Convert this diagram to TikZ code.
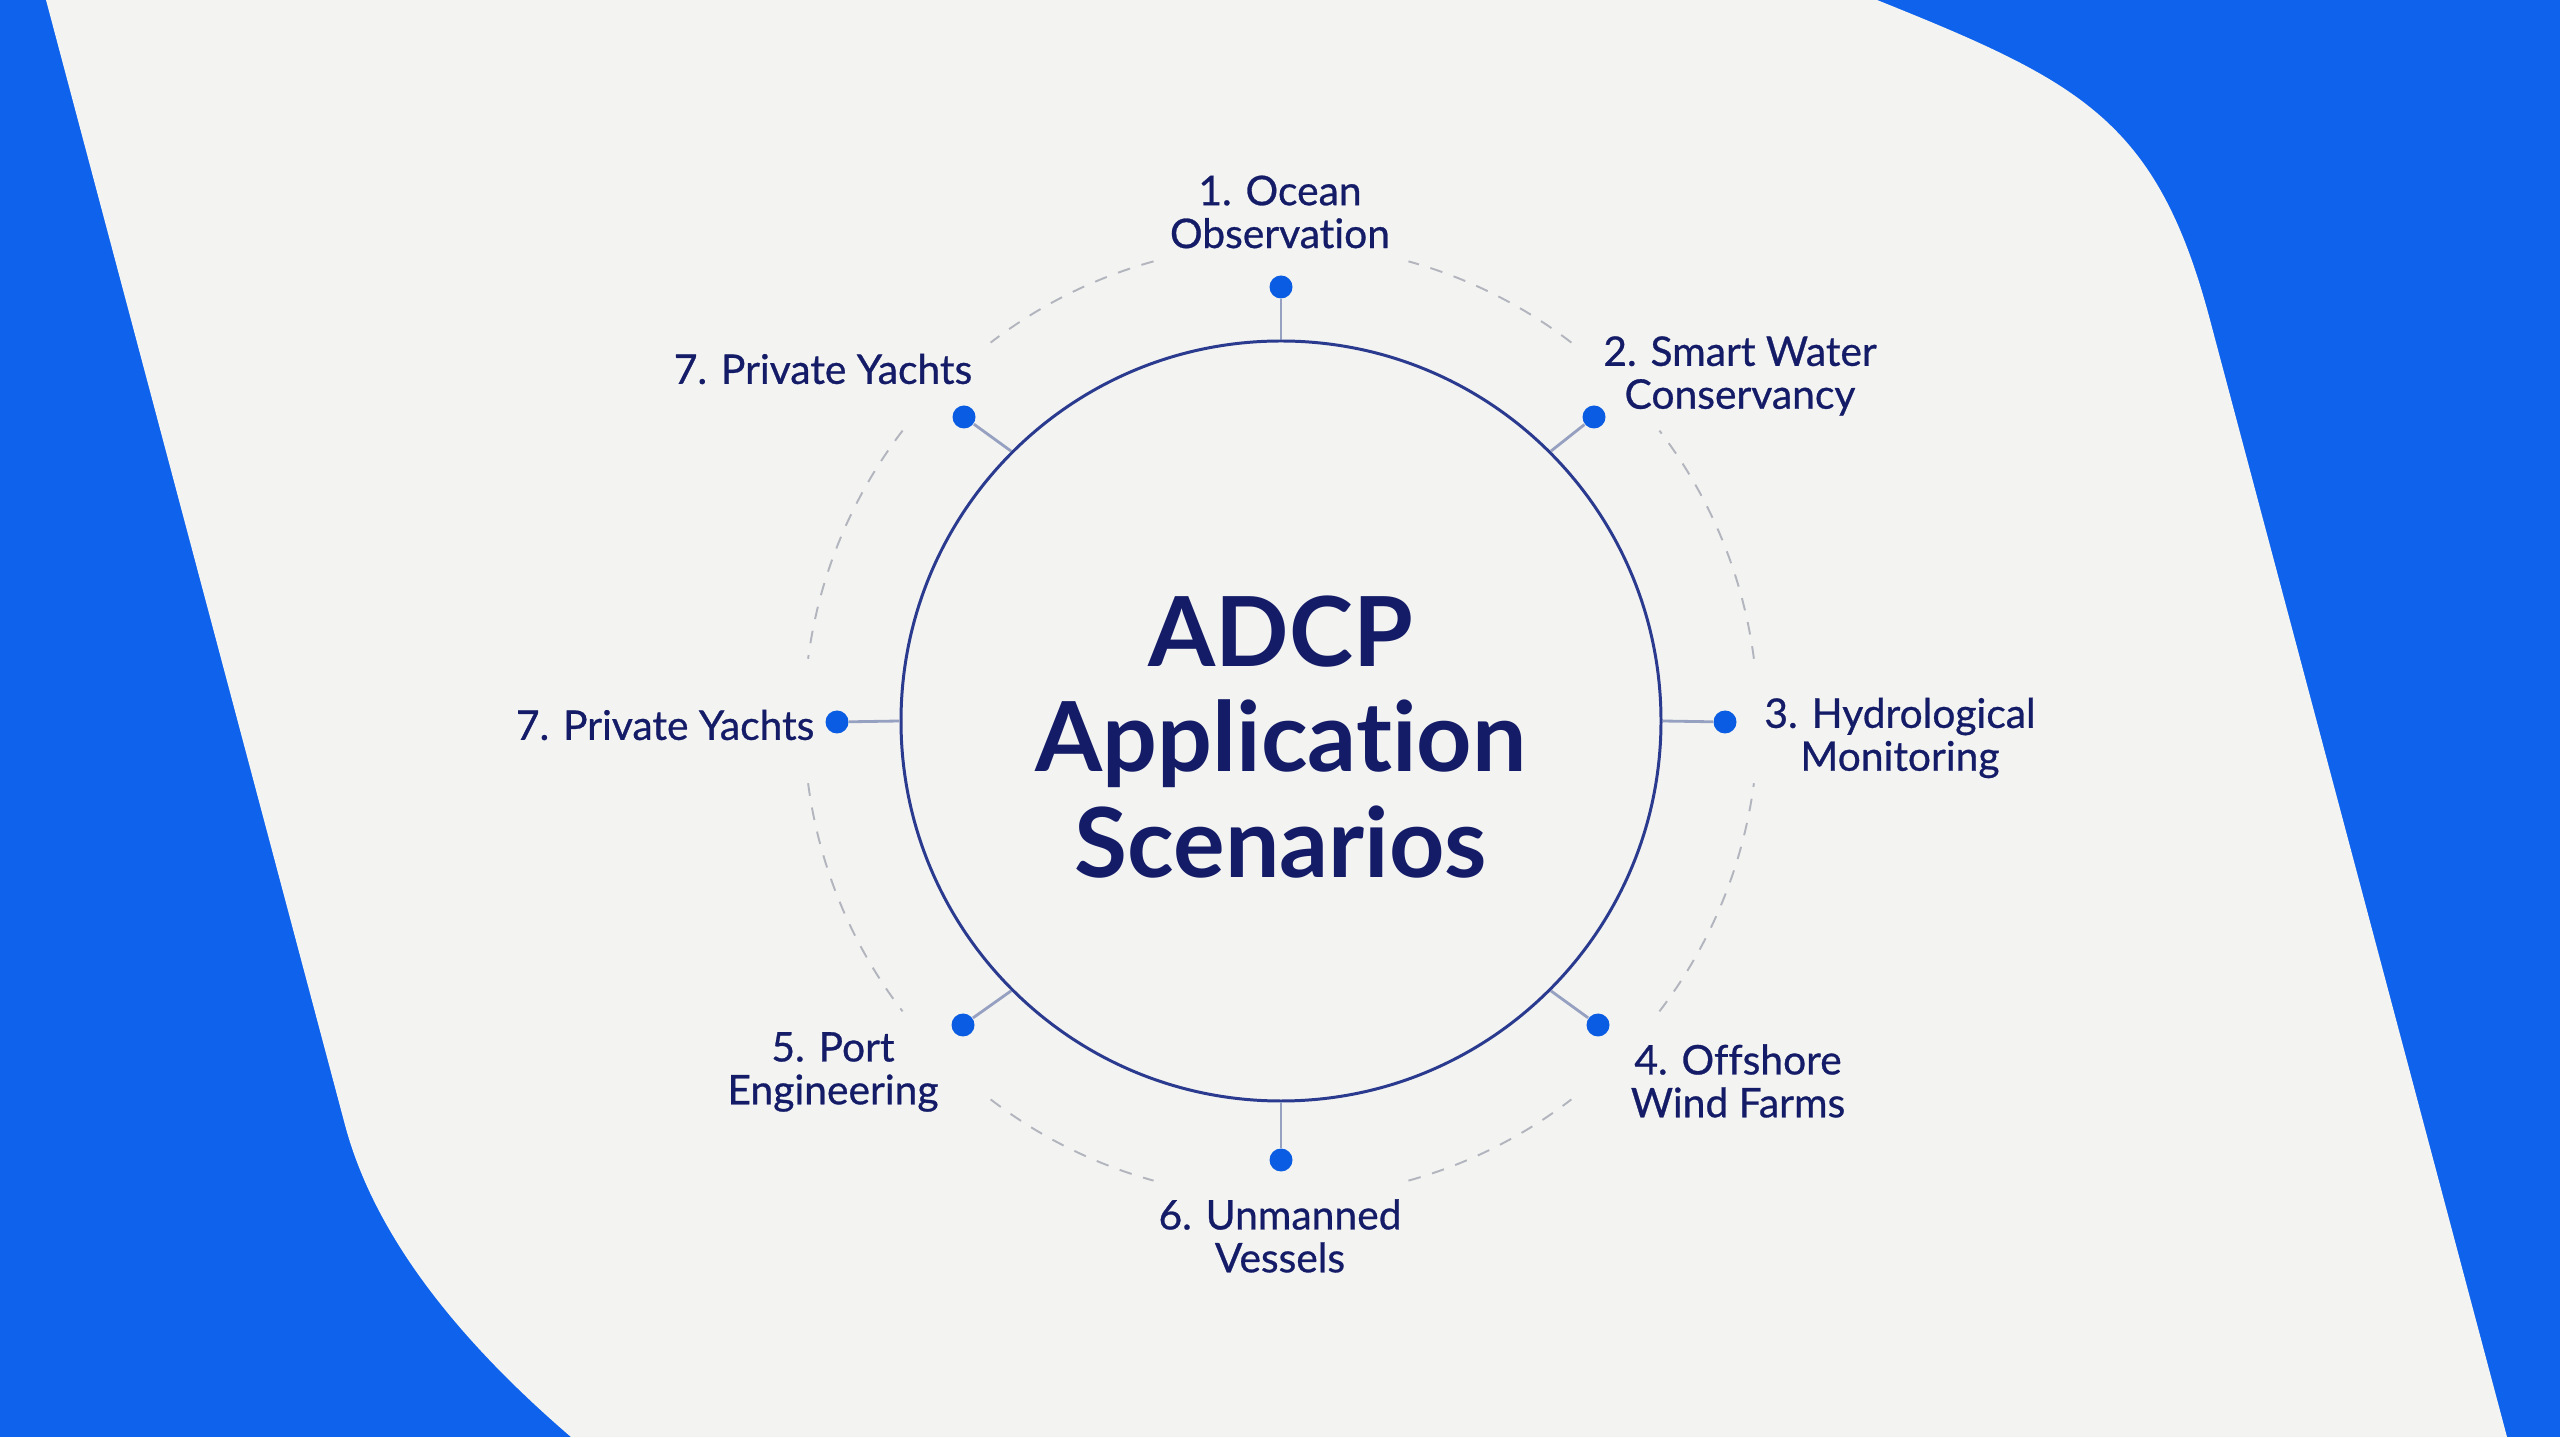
\documentclass[tikz,border=0pt]{standalone}
\usepackage{fontspec}
\setmainfont{Lato}[Ligatures=NoCommon]
\newfontfamily\labfont{Lato}[Ligatures=NoCommon,FakeBold=0.7]
\definecolor{bgblue}{RGB}{14,98,236}
\definecolor{panel}{RGB}{243,243,241}
\definecolor{navy}{RGB}{20,28,104}
\definecolor{ringnavy}{RGB}{42,58,142}
\definecolor{dotblue}{RGB}{10,92,226}
\definecolor{spokegray}{RGB}{150,160,192}
\definecolor{dashgray}{RGB}{178,181,190}
\begin{document}
\begin{tikzpicture}[
  hub/.style={circle,draw=ringnavy,line width=0.85pt,minimum size=7.6cm,inner sep=0pt},
  pin/.style={circle,fill=dotblue,minimum size=0.23cm,inner sep=0pt},
  spoke/.style={spokegray,line width=0.8pt},
  ring/.style={dashgray,line width=0.55pt,dash pattern=on 3.6pt off 3.4pt},
  lab/.style={text=navy,font=\labfont\fontsize{11.6}{12.2}\selectfont,align=center,inner sep=0pt},
  title/.style={text=navy,font=\bfseries\fontsize{27.5}{30}\selectfont,align=center,inner sep=0pt}]
\useasboundingbox (0,0) rectangle (25.6,14.37);
\fill[bgblue] (0,0) rectangle (25.6,14.37); %blue back
\fill[panel] (0.46,14.37) -- (3.45,3.12) .. controls (3.77,1.92) and (4.71,0.86) .. (5.71,0) -- (25.07,0) -- (22.10,11.17) .. controls (21.57,13.17) and (20.81,13.55) .. (18.77,14.37) -- cycle; %light panel
%dashed outer ring, broken at the labels
\draw[ring] (12.81,7.16) ++(7.5:4.77) arc (7.5:37.5:4.77);
\draw[ring] (12.81,7.16) ++(52.5:4.77) arc (52.5:74.5:4.77);
\draw[ring] (12.81,7.16) ++(105.5:4.77) arc (105.5:127.5:4.77);
\draw[ring] (12.81,7.16) ++(142.5:4.77) arc (142.5:172.5:4.77);
\draw[ring] (12.81,7.16) ++(187.5:4.77) arc (187.5:217.5:4.77);
\draw[ring] (12.81,7.16) ++(232.5:4.77) arc (232.5:254.5:4.77);
\draw[ring] (12.81,7.16) ++(285.5:4.77) arc (285.5:307.5:4.77);
\draw[ring] (12.81,7.16) ++(322.5:4.77) arc (322.5:352.5:4.77);
\node[hub] (hub) at (12.81,7.16) {}; %main circle
\node[title] (adcp) at (12.81,7.00) {ADCP\\Application\\Scenarios};
\node[pin] (d1) at (12.81,11.50) {};
\node[pin] (d2) at (15.94,10.20) {};
\node[pin] (d3) at (17.25,7.15) {};
\node[pin] (d4) at (15.98,4.12) {};
\node[pin] (d6) at (12.81,2.77) {};
\node[pin] (d5) at (9.63,4.12) {};
\node[pin] (d7) at (8.37,7.15) {};
\node[pin] (d8) at (9.64,10.20) {};
\draw[spoke] (hub.90) -- (d1);
\draw[spoke] (hub.45) -- (d2);
\draw[spoke] (hub.0) -- (d3);
\draw[spoke] (hub.-45) -- (d4);
\draw[spoke] (hub.-90) -- (d6);
\draw[spoke] (hub.-135) -- (d5);
\draw[spoke] (hub.180) -- (d7);
\draw[spoke] (hub.135) -- (d8);
\node[lab] (l1) at (12.80,12.25) {1. Ocean\\Observation};
\node[lab] (l2) at (17.40,10.61) {2. Smart Water\\Conservancy};
\node[lab] (l3) at (19.00,6.99) {3. Hydrological\\Monitoring};
\node[lab] (l4) at (17.38,3.56) {4. Offshore\\Wind Farms};
\node[lab] (l5) at (8.33,3.65) {5. Port\\Engineering};
\node[lab] (l6) at (12.80,2.01) {6. Unmanned\\Vessels};
\node[lab,anchor=east] (l7) at (8.15,7.12) {7. Private Yachts};
\node[lab] (l8) at (8.23,10.68) {7. Private Yachts};
\end{tikzpicture}
\end{document}
